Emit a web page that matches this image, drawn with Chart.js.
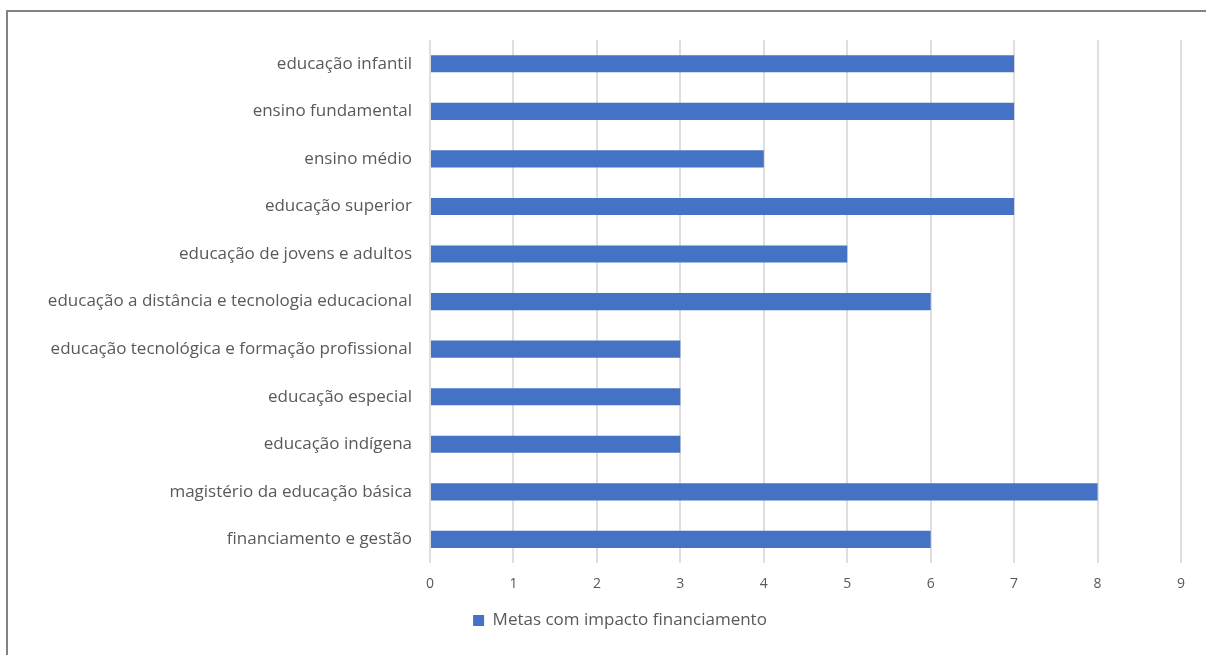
<!DOCTYPE html>
<html lang="pt">
<head>
<meta charset="utf-8">
<title>Metas com impacto financiamento</title>
<script src="https://cdn.jsdelivr.net/npm/chart.js@4/dist/chart.umd.min.js"></script>
<style>
    html, body { margin: 0; padding: 0; background: #fff; overflow: hidden; }
    #wrap { position: relative; width: 1206px; height: 655px; }
    #frame {
        position: absolute; left: 6px; top: 10px; width: 1300px; height: 800px;
        border: 2px solid #828282; pointer-events: none;
    }
    canvas { position: absolute; left: 0; top: 0; }
</style>
</head>
<body>
<div id="wrap">
    <canvas id="chart" width="1206" height="655"></canvas>
    <div id="frame"></div>
</div>
<script>
// Metas do PNE com impacto no financiamento, por área
const categorias = [
    "educação infantil",
    "ensino fundamental",
    "ensino médio",
    "educação superior",
    "educação de jovens e adultos",
    "educação a distância e tecnologia educacional",
    "educação tecnológica e formação profissional",
    "educação especial",
    "educação indígena",
    "magistério da educação básica",
    "financiamento e gestão",
];
const metas = [7, 7, 4, 7, 5, 6, 3, 3, 3, 8, 6];
const serieNome = "Metas com impacto financiamento";
const eixoMax = 9;

const AZUL = "#4472C4";
const TEXTO = "#595959";
const GRADE = "#dedede";
const FONTE = "'Open Sans', sans-serif";

// padding esquerdo maior só para centrar a legenda como no original;
// a largura do eixo y compensa para a área do gráfico começar em x=430
const PAD_ESQ = 59;

// o Chart.js recorta os rótulos do eixo y à largura do eixo:
// depois do layout alarga o eixo até à borda para não cortar o texto
const soltaRotulos = {
    id: "soltaRotulos",
    afterLayout(chart) {
        chart.scales.y.left = 0;
    },
};

new Chart(document.getElementById("chart"), {
    type: "bar",
    data: {
        labels: categorias,
        datasets: [{
            label: serieNome,
            data: metas,
            backgroundColor: AZUL,
            borderWidth: 0,
            categoryPercentage: 1,
            barPercentage: 0.36,
        }],
    },
    plugins: [soltaRotulos],
    options: {
        indexAxis: "y",
        responsive: false,
        animation: false,
        layout: { padding: { top: 40, right: 25, left: PAD_ESQ, bottom: 16 } },
        plugins: {
            tooltip: { enabled: false },
            legend: {
                position: "bottom",
                labels: {
                    color: TEXTO,
                    font: { family: FONTE, size: 17 },
                    boxWidth: 11,
                    boxHeight: 11,
                    padding: 8,
                },
            },
        },
        scales: {
            x: {
                min: 0,
                max: eixoMax,
                ticks: {
                    stepSize: 1,
                    color: TEXTO,
                    padding: 12,
                    font: { family: FONTE, size: 14 },
                },
                grid: { color: GRADE, lineWidth: 2, drawTicks: false },
                border: { display: false },
            },
            y: {
                ticks: {
                    color: TEXTO,
                    padding: 18,
                    autoSkip: false,
                    font: { family: FONTE, size: 17 },
                },
                grid: { display: false, drawTicks: false },
                border: { display: false },
                afterFit: (s) => { s.width = 430 - PAD_ESQ; },
            },
        },
    },
});
</script>
</body>
</html>
